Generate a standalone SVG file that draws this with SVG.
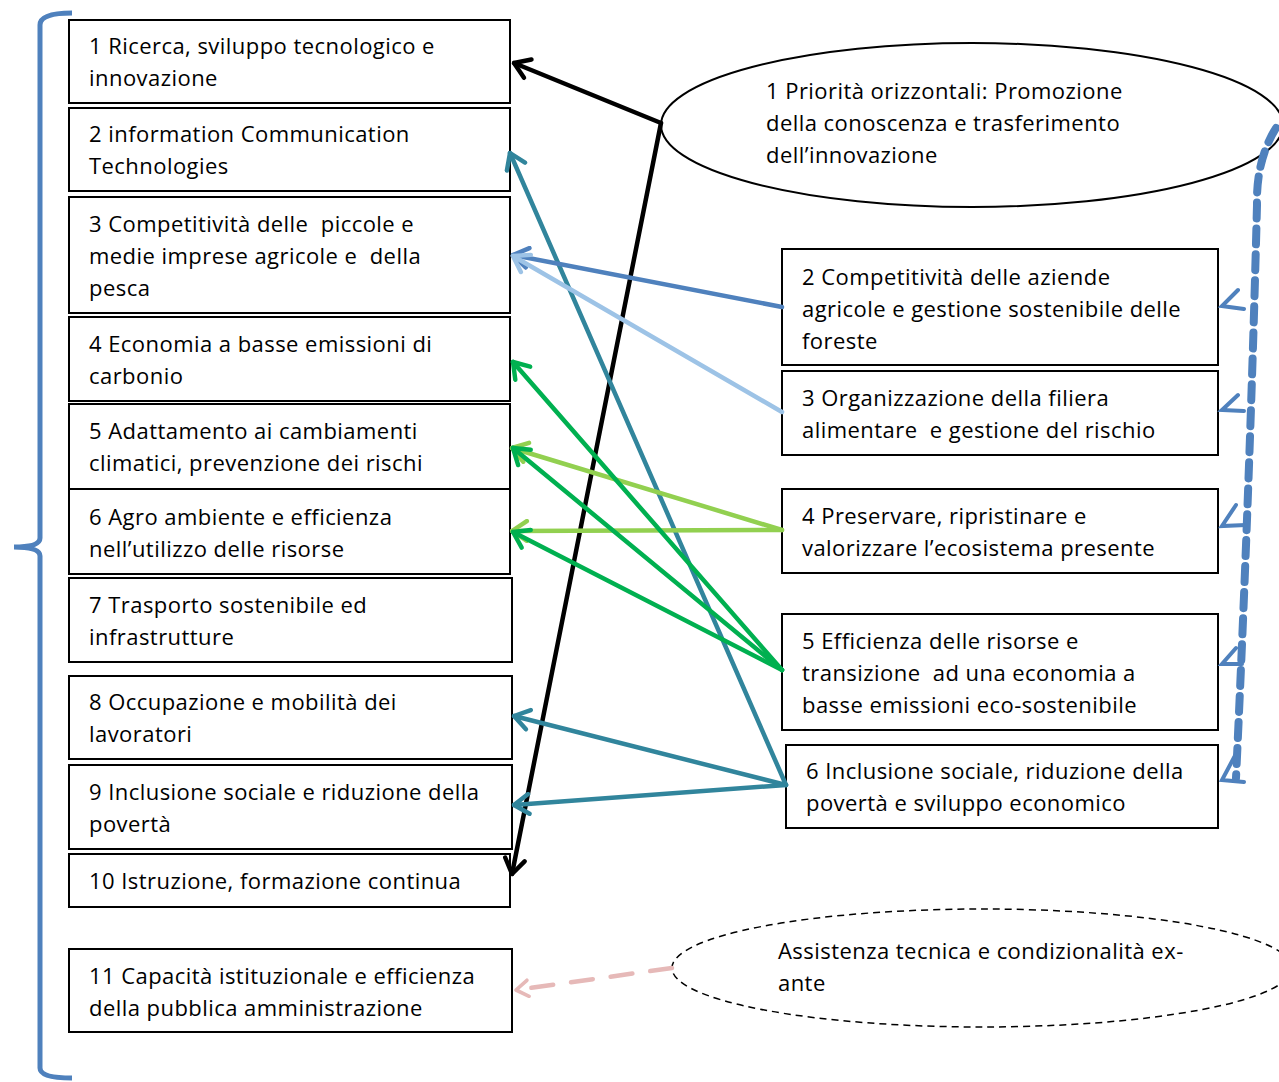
<svg xmlns="http://www.w3.org/2000/svg" width="1279" height="1082" viewBox="0 0 1279 1082">
<style>
.box{fill:#fff;stroke:#000;stroke-width:2}
text{font-family:"Open Sans","Liberation Sans",sans-serif;font-size:22px;letter-spacing:0.45px;fill:#000;white-space:pre}
.c{fill:none;stroke-width:4.5;stroke-linecap:round}
.m{fill:none;stroke-width:3.6;stroke-linecap:round;stroke-linejoin:round}
</style>
<defs>
<marker id="ab" viewBox="0 0 20 20" refX="18" refY="10" markerWidth="5.5" markerHeight="5.5" orient="auto" markerUnits="strokeWidth"><path class="m" d="M6,2 L18,10 L6,18" stroke="#000"/></marker>
<marker id="at" viewBox="0 0 20 20" refX="18" refY="10" markerWidth="5.5" markerHeight="5.5" orient="auto" markerUnits="strokeWidth"><path class="m" d="M6,2 L18,10 L6,18" stroke="#31859C"/></marker>
<marker id="abl" viewBox="0 0 20 20" refX="18" refY="10" markerWidth="5.5" markerHeight="5.5" orient="auto" markerUnits="strokeWidth"><path class="m" d="M6,2 L18,10 L6,18" stroke="#4F81BD"/></marker>
<marker id="alb" viewBox="0 0 20 20" refX="18" refY="10" markerWidth="5.5" markerHeight="5.5" orient="auto" markerUnits="strokeWidth"><path class="m" d="M6,2 L18,10 L6,18" stroke="#9DC3E6"/></marker>
<marker id="alg" viewBox="0 0 20 20" refX="18" refY="10" markerWidth="5.5" markerHeight="5.5" orient="auto" markerUnits="strokeWidth"><path class="m" d="M6,2 L18,10 L6,18" stroke="#92D050"/></marker>
<marker id="ag" viewBox="0 0 20 20" refX="18" refY="10" markerWidth="5.5" markerHeight="5.5" orient="auto" markerUnits="strokeWidth"><path class="m" d="M6,2 L18,10 L6,18" stroke="#00B050"/></marker>
<marker id="ap" viewBox="0 0 20 20" refX="18" refY="10" markerWidth="4.5" markerHeight="4.5" orient="auto" markerUnits="strokeWidth"><path class="m" d="M6,2 L18,10 L6,18" stroke="#E6B9B8"/></marker>
</defs>

<path d="M72,13 Q40,13 40,25 L40,538 Q40,547 14,547 Q40,547 40,556 L40,1068 Q40,1078 72,1078" fill="none" stroke="#4F81BD" stroke-width="5"/>

<g id="n1"><rect class="box" x="69" y="20" width="441" height="83"/><text x="89" y="54">1 Ricerca, sviluppo tecnologico e</text><text x="89" y="86">innovazione</text></g>
<g id="n2"><rect class="box" x="69" y="108" width="441" height="83"/><text x="89" y="142">2 information Communication</text><text x="89" y="174">Technologies</text></g>
<g id="n3"><rect class="box" x="69" y="197" width="441" height="116"/><text x="89" y="232">3 Competitività delle  piccole e</text><text x="89" y="264">medie imprese agricole e  della</text><text x="89" y="296">pesca</text></g>
<g id="n4"><rect class="box" x="69" y="317" width="441" height="84"/><text x="89" y="352">4 Economia a basse emissioni di</text><text x="89" y="384">carbonio</text></g>
<g id="n5"><rect class="box" x="69" y="404" width="441" height="85"/><text x="89" y="439">5 Adattamento ai cambiamenti</text><text x="89" y="471">climatici, prevenzione dei rischi</text></g>
<g id="n6"><rect class="box" x="69" y="489" width="441" height="85"/><text x="89" y="525">6 Agro ambiente e efficienza</text><text x="89" y="557">nell’utilizzo delle risorse</text></g>
<g id="n7"><rect class="box" x="69" y="578" width="443" height="84"/><text x="89" y="613">7 Trasporto sostenibile ed</text><text x="89" y="645">infrastrutture</text></g>
<g id="n8"><rect class="box" x="69" y="676" width="443" height="83"/><text x="89" y="710">8 Occupazione e mobilità dei</text><text x="89" y="742">lavoratori</text></g>
<g id="n9"><rect class="box" x="69" y="765" width="443" height="84"/><text x="89" y="800">9 Inclusione sociale e riduzione della</text><text x="89" y="832">povertà</text></g>
<g id="n10"><rect class="box" x="69" y="854" width="441" height="53"/><text x="89" y="889">10 Istruzione, formazione continua</text></g>
<g id="n11"><rect class="box" x="69" y="949" width="443" height="83"/><text x="89" y="984">11 Capacità istituzionale e efficienza</text><text x="89" y="1016">della pubblica amministrazione</text></g>

<g id="p1"><ellipse cx="972" cy="125" rx="311" ry="82" fill="#fff" stroke="#000" stroke-width="2"/><text x="766" y="99">1 Priorità orizzontali: Promozione</text><text x="766" y="131">della conoscenza e trasferimento</text><text x="766" y="163">dell’innovazione</text></g>
<g id="p2"><rect class="box" x="782" y="249" width="436" height="116"/><text x="802" y="285">2 Competitività delle aziende</text><text x="802" y="317">agricole e gestione sostenibile delle</text><text x="802" y="349">foreste</text></g>
<g id="p3"><rect class="box" x="782" y="371" width="436" height="84"/><text x="802" y="406">3 Organizzazione della filiera</text><text x="802" y="438">alimentare  e gestione del rischio</text></g>
<g id="p4"><rect class="box" x="782" y="489" width="436" height="84"/><text x="802" y="524">4 Preservare, ripristinare e</text><text x="802" y="556">valorizzare l’ecosistema presente</text></g>
<g id="p5"><rect class="box" x="782" y="614" width="436" height="116"/><text x="802" y="649">5 Efficienza delle risorse e</text><text x="802" y="681">transizione  ad una economia a</text><text x="802" y="713">basse emissioni eco-sostenibile</text></g>
<g id="p6"><rect class="box" x="786" y="745" width="432" height="83"/><text x="806" y="779">6 Inclusione sociale, riduzione della</text><text x="806" y="811">povertà e sviluppo economico</text></g>
<g id="at"><ellipse cx="982" cy="968" rx="310" ry="59" fill="#fff" stroke="#000" stroke-width="1.5" stroke-dasharray="7,5"/><text x="778" y="959">Assistenza tecnica e condizionalità ex-</text><text x="778" y="991">ante</text></g>

<g id="connectors">
<path class="c" d="M661,123 L514,63" stroke="#000" stroke-width="5" marker-end="url(#ab)"/>
<path class="c" d="M661,123 L512,874" stroke="#000" stroke-width="5" marker-end="url(#ab)"/>
<path class="c" d="M786,785 L510,153" stroke="#31859C" marker-end="url(#at)"/>
<path class="c" d="M786,785 L514,716" stroke="#31859C" marker-end="url(#at)"/>
<path class="c" d="M786,785 L514,805" stroke="#31859C" marker-end="url(#at)"/>
<path class="c" d="M782,307 L513,255" stroke="#4F81BD" marker-end="url(#abl)"/>
<path class="c" d="M782,412 L513,256" stroke="#9DC3E6" marker-end="url(#alb)"/>
<path class="c" d="M782,530 L512,448" stroke="#92D050" marker-end="url(#alg)"/>
<path class="c" d="M782,530 L512,531" stroke="#92D050" marker-end="url(#alg)"/>
<path class="c" d="M782,670 L513,362" stroke="#00B050" marker-end="url(#ag)"/>
<path class="c" d="M782,670 L513,448" stroke="#00B050" marker-end="url(#ag)"/>
<path class="c" d="M782,670 L513,532" stroke="#00B050" marker-end="url(#ag)"/>
<path class="c" d="M672,968 L516,990" stroke="#E6B9B8" stroke-width="5" stroke-dasharray="22,18" marker-end="url(#ap)"/>
<g fill="none" stroke="#4F81BD" stroke-linecap="round">
<path d="M1276,128 Q1256,160 1257,205 Q1250,480 1236,778" stroke-width="8" stroke-dasharray="16,10"/>
<path d="M1238,290 L1222,306 L1244,309 M1238,395 L1222,410 L1244,411 M1236,505 L1222,526 L1246,525 M1236,648 L1222,664 L1242,664 M1238,750 L1222,780 L1244,782" stroke-width="4"/>
</g>
</g>
</svg>
